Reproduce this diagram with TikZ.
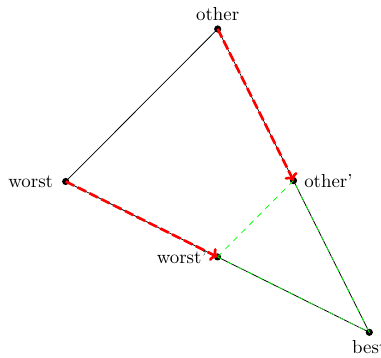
\documentclass[tikz,border=0pt]{standalone}
\usetikzlibrary{arrows.meta}
\begin{document}
\begin{tikzpicture}[x=0.53pt,y=-0.53pt,
  pt/.style={circle,fill=black,inner sep=0pt,minimum size=3.8pt},
  lab/.style={font=\normalsize,inner sep=1pt},
  edge/.style={black,line width=0.4pt},
  move/.style={red,line width=1.4pt,dashed,dash pattern=on 5pt off 2pt,-{To[length=3.5pt,width=7.5pt]}},
  newtri/.style={green,line width=0.4pt,dashed}]
\useasboundingbox (0,0) rectangle (381,358);
\node[pt] (o) at (217.7,29) {};
\node[pt] (w) at (65.7,181.5) {};
\node[pt] (b) at (369.3,332.3) {};
\node[pt] (op) at (293.5,180.6) {};
\node[pt] (wp) at (217.5,256.9) {};
\node[lab,above=3pt] (ol) at (o) {other};
\node[lab,left=5.5pt] (wl) at (w) {worst};
\node[lab,right=4.5pt] (opl) at (op) {other'};
\node[lab,left=4.5pt] (wpl) at (wp) {worst'};
\node[lab,below=3pt] (bl) at (b) {best};
\draw[edge] (w.center) -- (o.center) -- (b.center) -- cycle;
\draw[newtri] (wp.center) -- (op.center) -- (b.center) -- cycle;
\draw[move] (o.center) -- (op.center);
\draw[move] (w.center) -- (wp.center);
\end{tikzpicture}
\end{document}
